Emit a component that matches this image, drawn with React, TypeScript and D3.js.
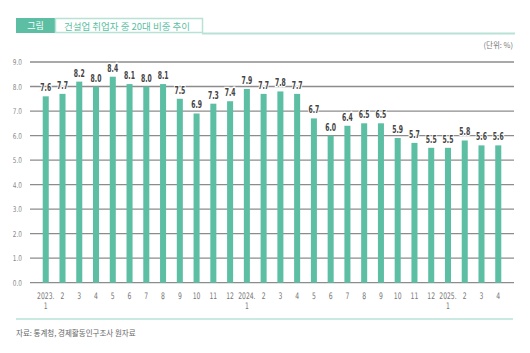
import React, { useEffect, useRef } from 'react';
import * as d3 from 'd3';

// 월 라벨 (첫 줄 / 둘째 줄)
const monthTop = ['2023.', '2', '3', '4', '5', '6', '7', '8', '9', '10', '11', '12',
  '2024.', '2', '3', '4', '5', '6', '7', '8', '9', '10', '11', '12',
  '2025.', '2', '3', '4'];
const monthSub = ['1', '', '', '', '', '', '', '', '', '', '', '',
  '1', '', '', '', '', '', '', '', '', '', '', '',
  '1', '', '', ''];
// 건설업 취업자 중 20대 비중 (%)
const shareValues = [7.6, 7.7, 8.2, 8.0, 8.4, 8.1, 8.0, 8.1, 7.5, 6.9, 7.3, 7.4,
  7.9, 7.7, 7.8, 7.7, 6.7, 6.0, 6.4, 6.5, 6.5, 5.9, 5.7, 5.5,
  5.5, 5.8, 5.6, 5.6];
const yTicks = [0, 1, 2, 3, 4, 5, 6, 7, 8, 9];

const W = 530;
const H = 353;
const TEAL = '#5cbfa3';
const LIGHT = '#b8e2d6';
const NARROW = '"DejaVu Sans Condensed", "DejaVu Sans", sans-serif';
const KR = '"Noto Sans CJK KR", "Noto Sans", sans-serif';

// narrow text helper: squeeze horizontally around anchor x
const squeeze = (sel: any, cx: number, k: number) =>
  sel.attr('transform', `translate(${cx},0) scale(${k},1) translate(${-cx},0)`);

const App = () => {
  const svgRef = useRef<SVGSVGElement>(null);

  useEffect(() => {
    document.body.style.margin = '0';
    const svg = d3.select(svgRef.current);
    svg.selectAll('*').remove();

    const keys = monthTop.map((_, i) => String(i));
    const x = d3.scaleBand().domain(keys).range([32, 512]).padding(0.64);
    const y = d3.scaleLinear().domain([0, 9]).range([282.7, 62]);

    svg.append('rect').attr('width', W).attr('height', H).attr('fill', '#fff');

    // title
    svg.append('rect').attr('x', 16).attr('y', 18).attr('width', 39).attr('height', 15).attr('fill', TEAL);
    svg.append('text').attr('x', 35.5).attr('y', 29).attr('text-anchor', 'middle')
      .attr('font-family', KR).attr('font-size', 9).attr('fill', '#fff').text('그림');
    svg.append('rect').attr('x', 55.5).attr('y', 18.5).attr('width', 147).attr('height', 14)
      .attr('fill', '#fff').attr('stroke', LIGHT).attr('stroke-width', 1.5);
    svg.append('line').attr('x1', 202).attr('x2', 515).attr('y1', 33.5).attr('y2', 33.5)
      .attr('stroke', LIGHT).attr('stroke-width', 2);
    svg.append('text').attr('x', 64).attr('y', 29.5)
      .attr('font-family', KR).attr('font-size', 9.5).attr('fill', TEAL)
      .text('건설업 취업자 중 20대 비중 추이');
    svg.append('text').attr('x', 513).attr('y', 48).attr('text-anchor', 'end')
      .attr('font-family', KR).attr('font-size', 7.5).attr('fill', '#777').text('(단위: %)');

    // grid + y labels
    const grid = svg.append('g');
    yTicks.forEach(t => {
      grid.append('line').attr('x1', 30).attr('x2', 514).attr('y1', y(t)).attr('y2', y(t))
        .attr('stroke', '#8c8c8c').attr('stroke-width', 1.3);
      squeeze(grid.append('text').attr('x', 22).attr('y', y(t) + 3).attr('text-anchor', 'end')
        .attr('font-family', NARROW).attr('font-size', 8).attr('fill', '#888')
        .text(d3.format('.1f')(t)), 22, 0.8);
    });

    // bars
    svg.append('g').selectAll('rect').data(shareValues).enter().append('rect')
      .attr('x', (_, i) => x(keys[i]) as number)
      .attr('width', x.bandwidth())
      .attr('y', d => y(d))
      .attr('height', d => y(0) - y(d))
      .attr('fill', TEAL);

    // value labels
    const vl = svg.append('g');
    shareValues.forEach((d, i) => {
      const cx = (x(keys[i]) as number) + x.bandwidth() / 2;
      squeeze(vl.append('text')
        .attr('x', cx).attr('y', y(d) - 5)
        .attr('text-anchor', 'middle')
        .attr('font-family', NARROW).attr('font-size', 10).attr('font-weight', 'bold')
        .attr('fill', '#444')
        .attr('stroke', '#fff').attr('stroke-width', 2.5).attr('paint-order', 'stroke')
        .text(d3.format('.1f')(d)), cx, 0.68);
    });

    // x labels
    const xl = svg.append('g');
    monthTop.forEach((m, i) => {
      const cx = (x(keys[i]) as number) + x.bandwidth() / 2;
      squeeze(xl.append('text').attr('x', cx).attr('y', 299).attr('text-anchor', 'middle')
        .attr('font-family', NARROW).attr('font-size', 9).attr('fill', '#777').text(m), cx, 0.75);
      if (monthSub[i]) {
        squeeze(xl.append('text').attr('x', cx).attr('y', 309).attr('text-anchor', 'middle')
          .attr('font-family', NARROW).attr('font-size', 9).attr('fill', '#777').text(monthSub[i]), cx, 0.75);
      }
    });

    svg.append('line').attr('x1', 16).attr('x2', 513).attr('y1', 319).attr('y2', 319)
      .attr('stroke', LIGHT).attr('stroke-width', 1.5);
    svg.append('text').attr('x', 16).attr('y', 336)
      .attr('font-family', KR).attr('font-size', 7.5).attr('fill', '#666')
      .text('자료: 통계청, 경제활동인구조사 원자료');
  }, []);

  return <svg ref={svgRef} width={W} height={H} style={{ display: 'block' }} />;
};

export default App;
